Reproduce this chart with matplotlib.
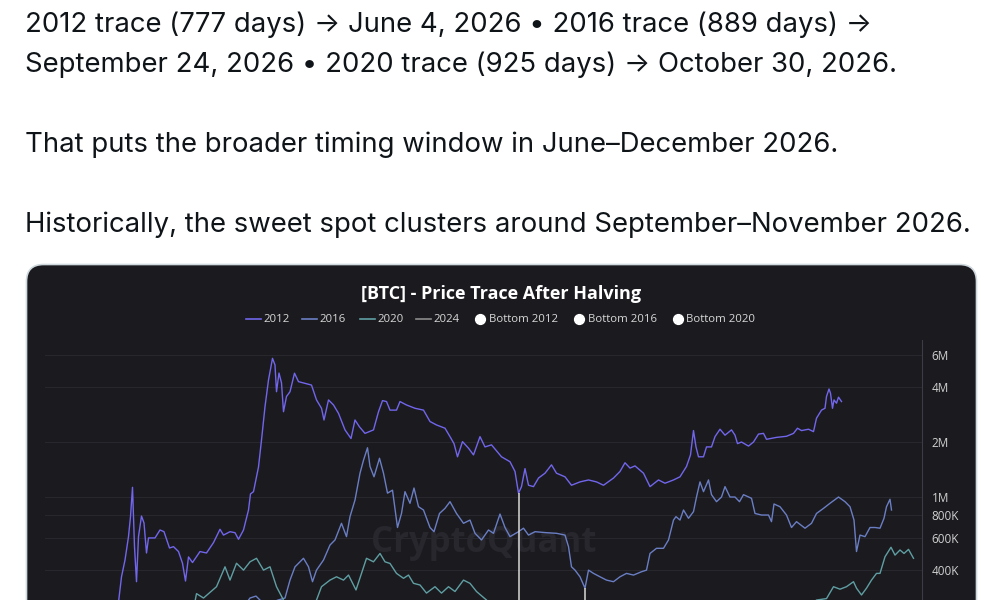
import numpy as np
import matplotlib.pyplot as plt
from matplotlib.patches import FancyBboxPatch
from matplotlib.ticker import FixedLocator, FixedFormatter, NullLocator

# tweet text above the chart
tweet_lines = [
    "2012 trace (777 days) \u2192 June 4, 2026 \u2022 2016 trace (889 days) \u2192",
    "September 24, 2026 \u2022 2020 trace (925 days) \u2192 October 30, 2026.",
    "That puts the broader timing window in June\u2013December 2026.",
    "Historically, the sweet spot clusters around September\u2013November 2026.",
]

title = "[BTC] - Price Trace After Halving"
series_names = ["2012", "2016", "2020", "2024"]
bottom_names = ["Bottom 2012", "Bottom 2016", "Bottom 2020"]

# days after halving / traced price in thousand USD
days_2012 = [144, 153, 160, 167, 171, 175, 179, 183, 187, 193, 198, 203, 207, 220, 230, 238,
             249, 257, 267, 275, 281, 287, 295, 310, 323, 337, 350, 357, 370, 380, 387, 397,
             407, 411, 417, 427, 433, 440, 447, 455, 460, 463, 468, 473, 477, 483, 490, 499,
             507, 520, 533, 543, 553, 558, 567, 577, 587, 600, 612, 620, 629, 640, 657, 667,
             675, 683, 690, 703, 710, 723, 740, 757, 770, 783, 800, 810, 818, 825, 835, 847,
             857, 870, 880, 893, 913, 930, 940, 947, 953, 960, 967, 977, 987, 1000, 1013, 1023,
             1040, 1053, 1070, 1087, 1103, 1117, 1137, 1150, 1160, 1170, 1180, 1197, 1210, 1227,
             1240, 1257, 1270, 1283, 1291, 1297, 1302, 1307, 1317, 1323, 1333, 1340, 1350, 1360,
             1373, 1380, 1385, 1393, 1407, 1417, 1427, 1437, 1443, 1463, 1483, 1497, 1505, 1513,
             1527, 1537, 1543, 1553, 1560, 1563, 1568, 1571, 1575, 1578, 1583, 1587, 1593]
price_2012 = [226, 366, 452, 607, 781, 1130, 535, 344, 607, 787, 721, 494, 597, 597, 660, 646,
              526, 535, 503, 434, 347, 470, 438, 503, 494, 563, 666, 619, 646, 638, 587, 660,
              849, 1040, 1070, 1460, 2050, 3120, 4370, 5740, 5280, 3770, 4770, 4210, 2930, 3550,
              3770, 4760, 4280, 4190, 4100, 3400, 3060, 2640, 3400, 3190, 2870, 2330, 2090, 2640,
              2420, 2230, 2330, 2930, 3370, 3330, 2990, 2990, 3330, 3190, 3060, 2990, 2590, 2480,
              2380, 2140, 1960, 1660, 2010, 1850, 1700, 2140, 1880, 1930, 1660, 1560, 1380, 1050,
              1140, 1430, 1160, 1140, 1270, 1350, 1500, 1350, 1290, 1160, 1210, 1240, 1210, 1160,
              1270, 1380, 1540, 1440, 1480, 1350, 1140, 1240, 1190, 1240, 1290, 1470, 1700, 2310,
              1880, 1660, 1660, 1880, 1880, 2140, 2350, 2180, 2330, 2180, 1960, 2000, 1900, 2000,
              2210, 2230, 2070, 2120, 2150, 2230, 2380, 2310, 2350, 2280, 2700, 2990, 3060, 3550,
              3900, 3700, 3060, 3400, 3260, 3520, 3330]

days_2016 = [390, 410, 422, 440, 466, 480, 490, 500, 517, 527, 535, 543, 557, 570, 580, 593,
             603, 610, 620, 630, 637, 645, 650, 658, 669, 677, 685, 695, 705, 713, 720, 730,
             738, 747, 757, 770, 778, 789, 800, 810, 823, 837, 850, 860, 873, 887, 897, 910,
             920, 930, 947, 957, 967, 980, 1003, 1023, 1040, 1047, 1053, 1060, 1070, 1080, 1087,
             1097, 1110, 1123, 1137, 1150, 1163, 1177, 1193, 1203, 1210, 1223, 1237, 1247, 1257,
             1262, 1270, 1277, 1287, 1297, 1303, 1310, 1317, 1327, 1333, 1343, 1353, 1360, 1370,
             1380, 1389, 1397, 1413, 1420, 1433, 1447, 1453, 1458, 1470, 1483, 1493, 1503, 1520,
             1533, 1543, 1557, 1570, 1587, 1600, 1610, 1618, 1623, 1630, 1640, 1650, 1660, 1670,
             1678, 1683, 1690, 1693]
price_2016 = [235, 280, 287, 256, 273, 280, 351, 415, 462, 415, 344, 398, 452, 546, 582, 718,
              607, 781, 963, 1350, 1590, 1860, 1470, 1290, 1630, 1350, 1050, 1090, 681, 813, 1070,
              924, 1120, 885, 849, 681, 646, 813, 867, 943, 813, 718, 748, 633, 582, 660, 633, 807,
              681, 607, 646, 675, 619, 646, 638, 633, 619, 535, 415, 398, 366, 317, 398, 382, 366,
              351, 344, 366, 382, 374, 390, 398, 491, 524, 524, 582, 748, 781, 748, 849, 765, 832,
              1000, 1210, 1070, 1240, 1030, 943, 1000, 1140, 1000, 1000, 943, 1030, 984, 813, 797,
              797, 733, 916, 885, 797, 681, 733, 675, 718, 813, 867, 924, 1000, 943, 885, 748, 503,
              619, 607, 681, 681, 675, 765, 885, 972, 849]

days_2020 = [296, 303, 317, 343, 360, 370, 383, 397, 410, 423, 437, 450, 463, 477, 490, 520,
             543, 553, 570, 583, 597, 607, 622, 633, 643, 657, 670, 680, 690, 703, 717, 727, 737,
             750, 763, 780, 793, 807, 820, 837, 850, 863, 883, 910, np.nan, 1510, 1543, 1563, 1577,
             1590, 1603, 1617, 1623, 1633, 1643, 1653, 1663, 1670, 1680, 1692, 1700, 1710, 1718,
             1727, 1737]
price_2020 = [235, 296, 280, 323, 415, 351, 434, 398, 442, 462, 398, 415, 323, 273, 226, 226,
              273, 323, 351, 366, 351, 374, 310, 382, 462, 442, 491, 442, 433, 382, 359, 374, 337,
              330, 298, 323, 298, 323, 304, 351, 337, 304, 273, 226, np.nan, 226, 273, 278, 323,
              313, 323, 344, 317, 291, 317, 351, 382, 382, 471, 531, 481, 513, 491, 517, 462]

days_2024 = []
price_2024 = []

bottom_days = [947, 1080]
bottom_prices = [1050, 317]

tick_values = [400, 600, 800, 1000, 2000, 4000, 6000]
tick_labels = ["400K", "600K", "800K", "1M", "2M", "4M", "6M"]

colors = ["#7166ec", "#6a7ec4", "#5f9fa3", "#8c8c8c"]
panel_color = "#1b1a1f"
chart_font = ["Open Sans", "DejaVu Sans"]
tweet_font = ["Inter", "DejaVu Sans"]

fig = plt.figure(figsize=(10, 6), dpi=100)
fig.patch.set_facecolor("white")

# background layer in pixel units
bg = fig.add_axes([0, 0, 1, 1], zorder=0)
bg.set_xlim(0, 1000)
bg.set_ylim(600, 0)
bg.axis("off")

for text, base in zip(tweet_lines, [32, 72, 152, 232]):
    bg.text(25, base, text, fontsize=19.8, color="#0f1419", va="baseline", ha="left",
            family=tweet_font)

panel = FancyBboxPatch((26.5, 264.5), 950, 400, boxstyle="round,pad=0,rounding_size=17",
                       facecolor=panel_color, edgecolor="#cfd9de", linewidth=1.2)
bg.add_patch(panel)

bg.text(501, 294, title, fontsize=13, fontweight="bold", color="white", ha="center",
        va="center", family=chart_font)

# legend row
leg_y = 319
line_x = [246, 302, 360, 416]
for name, col, x0 in zip(series_names, colors, line_x):
    bg.plot([x0, x0 + 15], [leg_y, leg_y], color=col, lw=1.2)
    bg.text(x0 + 17, leg_y, name, fontsize=8.2, color="#d8d8d8", va="center", ha="left",
            family=chart_font)
for name, x0 in zip(bottom_names, [480, 578.5, 677.5]):
    bg.scatter([x0], [leg_y], s=50, color="white", zorder=3)
    bg.text(x0 + 9, leg_y, name, fontsize=8.2, color="#d8d8d8", va="center", ha="left",
            family=chart_font)

bg.text(484, 543, "CryptoQuant", fontsize=25, fontweight="bold", color="#27272d",
        ha="center", va="center", family=chart_font)

# chart area
ax = fig.add_axes([0.045, 1 - 640 / 600, 0.877, 0.5], zorder=1)
ax.set_facecolor("none")
ax.set_yscale("log")
ax.set_xlim(0, 1754)
ax.set_ylim(1.650e5, 7.234e6)

for d, p, col, name in zip([days_2012, days_2016, days_2020, days_2024],
                           [price_2012, price_2016, price_2020, price_2024],
                           colors, series_names):
    ax.plot(d, np.array(p, dtype=float) * 1000, color=col, lw=1.0, label=name)

ax.vlines(bottom_days, 1.650e5, np.array(bottom_prices) * 1000, color="#d9d9d9", lw=1.1)

ax.yaxis.set_major_locator(FixedLocator(np.array(tick_values) * 1000))
ax.yaxis.set_major_formatter(FixedFormatter(tick_labels))
ax.yaxis.set_minor_locator(NullLocator())
ax.yaxis.tick_right()
ax.tick_params(axis="y", length=0, pad=7, labelsize=8.5, labelcolor="#d0d0d0")
for lab in ax.get_yticklabels():
    lab.set_family(chart_font)
ax.set_xticks([])
ax.grid(axis="y", color="#27272d", lw=0.8)
for side in ["top", "left", "bottom"]:
    ax.spines[side].set_visible(False)
ax.spines["right"].set_color("#3c3c44")
ax.spines["right"].set_linewidth(0.8)

fig.savefig("out.png", dpi=100, facecolor="white")
